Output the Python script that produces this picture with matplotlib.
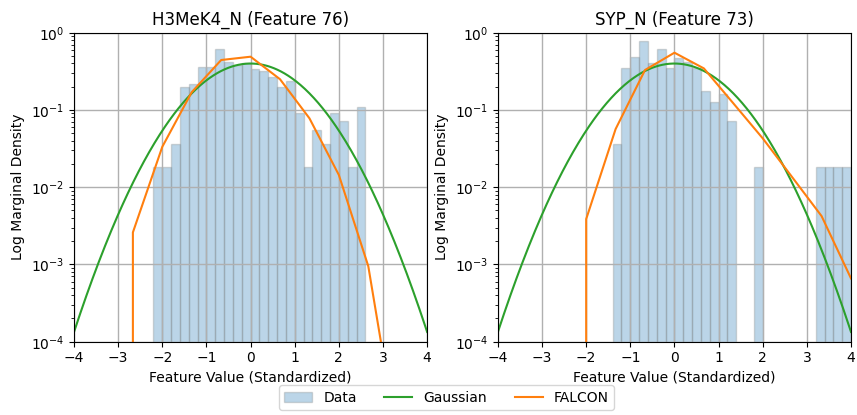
import numpy as np
import matplotlib
matplotlib.use('Agg')
import matplotlib.pyplot as plt

# histogram bins (left edge, density), bin width 0.2
bin_width = 0.2
left_edges = [-2.2, -2.0, -1.8, -1.6, -1.4, -1.2, -1.0, -0.8, -0.6, -0.4, -0.2, 0.0,
              0.2, 0.4, 0.6, 0.8, 1.0, 1.2, 1.4, 1.6, 1.8, 2.0, 2.2, 2.4]
left_density = [0.018, 0.018, 0.036, 0.196, 0.217, 0.356, 0.356, 0.61, 0.42, 0.38, 0.40, 0.336,
                0.323, 0.27, 0.196, 0.235, 0.09, 0.018, 0.055, 0.036, 0.09, 0.0726, 0.018, 0.108]

right_edges = [-1.4, -1.2, -1.0, -0.8, -0.6, -0.4, -0.2, 0.0, 0.2, 0.4, 0.6, 0.8, 1.0, 1.2,
               1.8, 3.2, 3.4, 3.6, 3.8]
right_density = [0.036, 0.345, 0.48, 0.79, 0.40, 0.615, 0.346, 0.466, 0.42, 0.35, 0.178, 0.128, 0.162, 0.0726,
                 0.018, 0.018, 0.018, 0.018, 0.018]

# FALCON density estimates
left_falcon_x = [-8/3, -8/3, -2.0, -4/3, -2/3, 0.0, 2/3, 4/3, 2.0, 8/3, 10/3]
left_falcon_y = [1e-10, 0.0026, 0.0334, 0.17, 0.443, 0.489, 0.25, 0.078, 0.0144, 0.00095, 5e-6]

right_falcon_x = [-2.0, -2.0, -4/3, -2/3, 0.0, 2/3, 4/3, 2.0, 8/3, 10/3, 4.0]
right_falcon_y = [1e-10, 0.00387, 0.0566, 0.329, 0.551, 0.345, 0.122, 0.0429, 0.0135, 0.00423, 0.00066]

# Gaussian reference (standardized)
gauss_mu, gauss_sigma = 0.0, 1.0

titles = ['H3MeK4_N (Feature 76)', 'SYP_N (Feature 73)']

fig = plt.figure(figsize=(8.57, 4.15), dpi=100)
ax1 = fig.add_axes([0.0864, 0.1766, 0.412, 0.7446])
ax2 = fig.add_axes([0.581, 0.1766, 0.412, 0.7446])

xs = np.linspace(-4, 4, 400)
gauss = np.exp(-0.5 * ((xs - gauss_mu) / gauss_sigma) ** 2) / (gauss_sigma * np.sqrt(2 * np.pi))

panels = [(ax1, left_edges, left_density, left_falcon_x, left_falcon_y),
          (ax2, right_edges, right_density, right_falcon_x, right_falcon_y)]

for i, (ax, edges, dens, fx, fy) in enumerate(panels):
  bars = ax.bar(edges, dens, width=bin_width, align='edge', color='C0', alpha=0.3,
                edgecolor='gray', linewidth=1, label='Data')
  g, = ax.plot(xs, gauss, color='C2', linewidth=1.5, label='Gaussian')
  f, = ax.plot(fx, fy, color='C1', linewidth=1.5, label='FALCON')
  ax.set_yscale('log')
  ax.set_xlim(-4, 4)
  ax.set_ylim(1e-4, 1)
  ax.set_xticks(range(-4, 5))
  ax.set_axisbelow('line')  # grid above bars, below lines
  ax.grid(True, which='major', color='#b0b0b0', linewidth=1)
  ax.set_title(titles[i], fontsize=12)
  ax.set_xlabel('Feature Value (Standardized)')
  ax.set_ylabel('Log Marginal Density')
  if i == 0:
    handles = [bars, g, f]

fig.legend(handles, ['Data', 'Gaussian', 'FALCON'], loc='lower center', ncol=3,
           bbox_to_anchor=(0.521, -0.005))

fig.savefig('out.png', dpi=100)
